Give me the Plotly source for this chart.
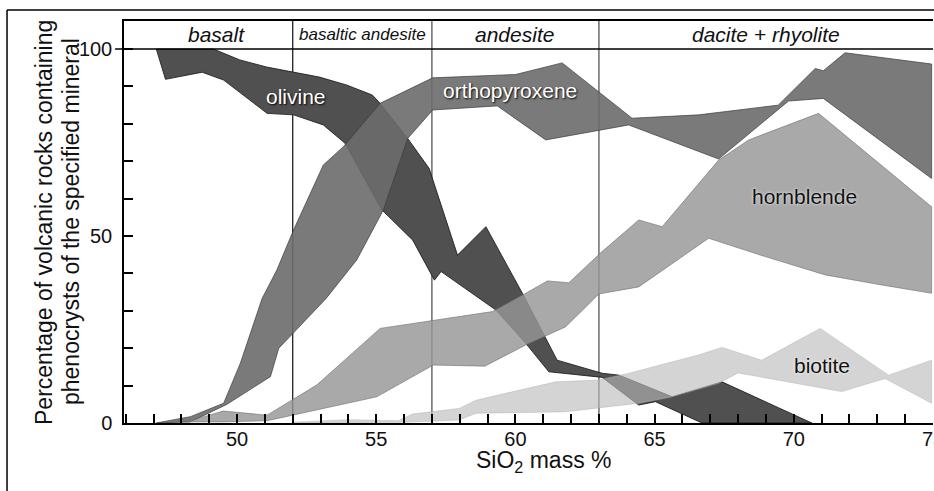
import plotly.graph_objects as go

# ---------------- data (SiO2 mass %, percentage) ----------------
olivine_up_x = [47.1, 49.15, 50.1, 51.06, 52.96, 53.93, 54.86, 55.14, 56.13, 56.9, 57.92, 58.94, 60.25, 61.5, 63.12, 63.72, 65.63, 67.42, 70.65]
olivine_up_y = [100, 100, 97.1, 95.2, 92.5, 90.4, 87.7, 85.5, 76.1, 68.1, 44.9, 52.5, 34.7, 16.8, 13.3, 12.8, 7.0, 11.0, 0.0]
olivine_lo_x = [47.1, 47.43, 48.75, 49.52, 51.08, 52.03, 53.1, 53.88, 55.2, 56.31, 57.09, 57.33, 59.3, 60.37, 61.2, 63.12, 64.43, 65.03, 66.7, 70.65]
olivine_lo_y = [100, 91.9, 93.8, 91.7, 82.8, 82.4, 79.7, 74.8, 57.0, 48.9, 38.2, 40.5, 30.2, 21.3, 13.7, 12.2, 4.8, 5.7, 0.0, 0.0]

opx_up_x = [47.1, 48.33, 49.52, 50.12, 50.9, 51.43, 52.03, 53.1, 53.82, 55.14, 57.03, 60.01, 61.68, 64.19, 66.58, 69.44, 70.77, 71.06, 71.84, 74.95]
opx_up_y = [0.0, 1.7, 5.3, 16.0, 33.3, 40.9, 51.6, 69.0, 73.9, 85.5, 92.3, 93.2, 96.3, 81.5, 82.4, 85.0, 94.8, 94.2, 99.0, 96.0]
opx_lo_x = [47.1, 48.33, 49.64, 51.2, 51.5, 51.9, 53.2, 54.3, 55.26, 56.13, 57.03, 59.35, 61.09, 64.07, 67.3, 69.81, 71.06, 74.95]
opx_lo_y = [0.0, 0.3, 5.0, 12.4, 20.0, 23.1, 33.3, 43.6, 57.0, 76.1, 83.7, 84.8, 75.7, 79.7, 70.6, 86.1, 86.8, 65.4]

hbl_up_x = [48.2, 49.5, 51.08, 52.87, 55.14, 57.05, 59.18, 60.37, 61.15, 61.92, 63.06, 64.43, 65.27, 67.3, 68.38, 70.89, 74.95]
hbl_up_y = [0.3, 3.2, 2.1, 10.2, 25.3, 27.5, 29.8, 34.7, 38.0, 37.5, 45.5, 54.3, 52.5, 70.3, 75.7, 82.8, 57.8]
hbl_lo_x = [48.2, 49.5, 51.08, 55.02, 57.05, 58.9, 60.49, 61.8, 63.0, 64.43, 66.94, 68.97, 71.13, 73.16, 74.95]
hbl_lo_y = [0.3, 0.3, 0.6, 7.0, 15.5, 15.2, 21.3, 25.7, 34.5, 36.4, 49.4, 44.5, 39.6, 36.9, 34.7]

bio_up_x = [52.0, 54.0, 55.8, 56.3, 57.98, 58.58, 61.45, 63.0, 64.08, 66.58, 67.42, 68.85, 70.95, 73.4, 74.95]
bio_up_y = [0.2, 0.9, 0.6, 2.4, 3.9, 6.1, 11.0, 11.5, 13.3, 18.2, 20.2, 16.8, 25.3, 12.8, 16.8]
bio_lo_x = [52.0, 56.0, 57.98, 58.58, 61.8, 64.43, 65.63, 67.3, 68.0, 71.72, 73.28, 74.95]
bio_lo_y = [0.0, 0.2, 0.8, 2.6, 3.0, 5.3, 7.0, 10.6, 13.4, 8.4, 11.9, 5.3]

rock_bounds = [52, 57, 63]
rock_names = ["basalt", "basaltic andesite", "andesite", "dacite + rhyolite"]
rock_label_x = [49.28, 54.5, 59.95, 69.0]
rock_label_size = [21, 17, 21, 21]

mineral_names = ["olivine", "orthopyroxene", "hornblende", "biotite"]
mineral_label_x = [52.12, 59.81, 70.4, 71.03]
mineral_label_y = [87.4, 89.0, 60.5, 15.5]

x_range = [45.94, 75.0]
y_top = 107.5

FONT = "Arial, 'Liberation Sans', sans-serif"

fig = go.Figure()

def band(ux, uy, lx, ly, fill, line):
    xs = list(ux) + list(lx)[::-1]
    ys = list(uy) + list(ly)[::-1]
    fig.add_trace(go.Scatter(x=xs, y=ys, mode="lines", fill="toself",
                             fillcolor=fill, line=dict(color=line, width=1),
                             hoverinfo="skip", showlegend=False))

band(olivine_up_x, olivine_up_y, olivine_lo_x, olivine_lo_y, "rgb(80,80,80)", "rgba(20,20,20,0.8)")
band(opx_up_x, opx_up_y, opx_lo_x, opx_lo_y, "rgba(108,108,108,0.9)", "rgba(60,60,60,0.7)")
band(hbl_up_x, hbl_up_y, hbl_lo_x, hbl_lo_y, "rgba(150,150,150,0.82)", "rgba(110,110,110,0.6)")
band(bio_up_x, bio_up_y, bio_lo_x, bio_lo_y, "rgba(186,186,186,0.62)", "rgba(180,180,180,0.5)")

shapes = []
# rock-type dividers
for i, b in enumerate(rock_bounds):
    shapes.append(dict(type="line", xref="x", yref="paper", x0=b, x1=b, y0=0, y1=1,
                       line=dict(color="#222" if i == 0 else "#555", width=1.3), layer="below"))
# header bottom line at 100
shapes.append(dict(type="line", xref="paper", yref="y", x0=-0.011, x1=1, y0=100, y1=100,
                   line=dict(color="black", width=1.5)))
# outer frame (left + top)
shapes.append(dict(type="line", xref="paper", yref="paper", x0=-0.1446, x1=-0.1446, y0=-0.2, y1=1.0274,
                   line=dict(color="black", width=1.5)))
shapes.append(dict(type="line", xref="paper", yref="paper", x0=-0.1446, x1=1.01, y0=1.0274, y1=1.0274,
                   line=dict(color="black", width=1.5)))

annotations = []
for name, x, s in zip(rock_names, rock_label_x, rock_label_size):
    annotations.append(dict(x=x, y=103.8, xref="x", yref="y", text=name, showarrow=False,
                            font=dict(family=FONT, size=s, color="#111", style="italic"),
                            xanchor="center", yanchor="middle"))
for i, (name, x, y) in enumerate(zip(mineral_names, mineral_label_x, mineral_label_y)):
    if i < 2:
        f = dict(family=FONT, size=21, color="white", shadow="1px 1px 2px #000")
    else:
        f = dict(family=FONT, size=21, color="#111", shadow="0px 0px 3px #fff")
    annotations.append(dict(x=x, y=y, xref="x", yref="y", text=name, showarrow=False,
                            font=f, xanchor="center", yanchor="middle"))
# axis titles
annotations.append(dict(x=-0.0989, y=0.5, xref="paper", yref="paper", showarrow=False,
                        text="Percentage of volcanic rocks containing", textangle=-90,
                        font=dict(family=FONT, size=23, color="#111"), xanchor="center", yanchor="middle"))
annotations.append(dict(x=-0.0655, y=0.5, xref="paper", yref="paper", showarrow=False,
                        text="phenocrysts of the specified mineral", textangle=-90,
                        font=dict(family=FONT, size=23, color="#111"), xanchor="center", yanchor="middle"))
annotations.append(dict(x=0.518, y=-0.095, xref="paper", yref="paper", showarrow=False,
                        text="SiO<sub>2</sub> mass %",
                        font=dict(family=FONT, size=23, color="#111"), xanchor="center", yanchor="middle"))

fig.update_layout(
    width=934, height=491,
    margin=dict(l=124, r=1, t=21, b=68),
    paper_bgcolor="white", plot_bgcolor="white",
    shapes=shapes, annotations=annotations,
    font=dict(family=FONT, size=20, color="#111"),
    xaxis=dict(range=x_range, showgrid=False, zeroline=False, showline=True, linecolor="black",
               linewidth=2, mirror=True, ticks="inside", ticklen=9, tickwidth=1.5, tickcolor="black",
               tick0=0, dtick=5, ticklabelstandoff=-3, ticklabeloverflow="allow", automargin=False,
               tickfont=dict(family=FONT, size=20, color="#111"),
               minor=dict(dtick=1, ticks="inside", ticklen=9, tickwidth=1.5, tickcolor="black")),
    yaxis=dict(range=[0, y_top], showgrid=False, zeroline=False, showline=True, linecolor="black",
               linewidth=1.5, ticks="inside", ticklen=9, tickwidth=1.5, tickcolor="black",
               tick0=0, dtick=50, ticklabelstandoff=6, automargin=False,
               tickfont=dict(family=FONT, size=20, color="#111"),
               minor=dict(dtick=10, ticks="inside", ticklen=9, tickwidth=1.5, tickcolor="black")),
)

fig.write_html("out.html")
